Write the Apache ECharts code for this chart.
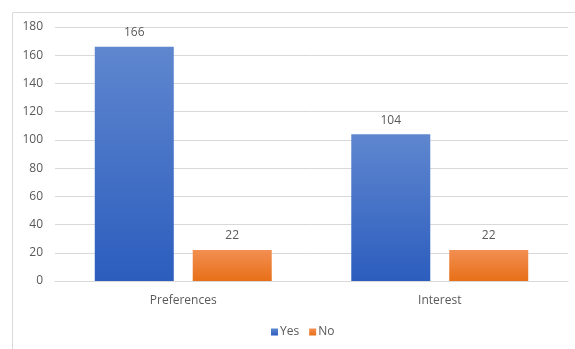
<!DOCTYPE html>
<html><head><meta charset="utf-8">
<script src="https://cdn.jsdelivr.net/npm/echarts@6/dist/echarts.min.js"></script>
<style>html,body{margin:0;padding:0;background:#fff}#c{width:575px;height:349px}</style>
</head><body><div id="c"></div>
<script>
const categories = ['Preferences', 'Interest'];
const yesValues = [166, 104];
const noValues = [22, 22];
const seriesNames = ['Yes', 'No'];
const yTicks = [0, 20, 40, 60, 80, 100, 120, 140, 160, 180];

const chart = echarts.init(document.getElementById('c'), null, {renderer: 'canvas'});
const font = '"Open Sans", "Liberation Sans", sans-serif';
function grad(top, bottom) {
  return new echarts.graphic.LinearGradient(0, 0, 0, 1, [{offset: 0, color: top}, {offset: 1, color: bottom}]);
}
chart.setOption({
  animation: false,
  graphic: [{
    type: 'rect', left: 10, top: 10, silent: true,
    shape: {width: 570, height: 345},
    style: {fill: 'none', stroke: '#d9d9d9', lineWidth: 1}
  }],
  grid: {left: 55, right: 7, top: 27, bottom: 68, containLabel: false},
  legend: {
    data: seriesNames, bottom: 6, left: 266,
    itemWidth: 7, itemHeight: 7, itemGap: 10, icon: 'rect',
    textStyle: {color: '#595959', fontSize: 12, fontFamily: font, padding: [0, 0, 0, -3]}
  },
  xAxis: {
    type: 'category', data: categories,
    axisLine: {lineStyle: {color: '#d9d9d9'}},
    axisTick: {show: false},
    axisLabel: {color: '#595959', fontSize: 12, fontFamily: font, margin: 14}
  },
  yAxis: {
    type: 'value', min: yTicks[0], max: yTicks[yTicks.length - 1], interval: 20,
    axisLine: {show: false}, axisTick: {show: false},
    splitLine: {lineStyle: {color: '#d9d9d9'}},
    axisLabel: {color: '#595959', fontSize: 12, fontFamily: font, margin: 12}
  },
  series: [
    {
      name: seriesNames[0], type: 'bar', data: yesValues,
      barWidth: 79, barGap: '24%',
      itemStyle: {color: grad('#5f87cf', '#2c5dbe')},
      label: {show: true, position: 'top', distance: 8, color: '#595959', fontSize: 12, fontFamily: font}
    },
    {
      name: seriesNames[1], type: 'bar', data: noValues,
      barWidth: 79,
      itemStyle: {color: grad('#f28f52', '#e86f17')},
      label: {show: true, position: 'top', distance: 8, color: '#595959', fontSize: 12, fontFamily: font}
    }
  ]
});
</script></body></html>
